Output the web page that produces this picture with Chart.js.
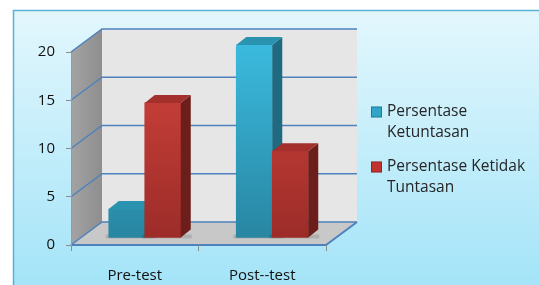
<!DOCTYPE html>
<html lang="id">
<head>
<meta charset="UTF-8">
<title>Ketuntasan</title>
<style>
  body { margin: 0; padding: 0; background: #fff; }
  #wrap { width: 539px; height: 285px; }
</style>
</head>
<body>
<div id="wrap"><canvas id="chart" width="539" height="285"></canvas></div>
<script src="https://cdn.jsdelivr.net/npm/chart.js"></script>
<script>
// data
const categories = ['Pre-test', 'Post--test'];
const ketuntasan = [3, 20];
const ketidakTuntasan = [14, 9];
const seriesLabels = ['Persentase Ketuntasan', 'Persentase Ketidak Tuntasan'];
const legendLines = [['Persentase', 'Ketuntasan'], ['Persentase Ketidak', 'Tuntasan']];

const FONT = "'Open Sans', sans-serif";
const DEPTH = { x: 31, y: -23 };     // wall depth
const BAR_SHIFT = { x: 10, y: -7 };  // bars sit in the middle of the floor
const BAR_DEPTH = { x: 10, y: -8 };

const palette = [
  { top: '#3bbade', bottom: '#2886a2', side: '#1f6a80', cap: '#2a93b0', icon: '#2fa6c8' },
  { top: '#d3443e', bottom: '#9c2c28', side: '#6c1e1b', cap: '#a3302c', icon: '#c0332f' }
];

function frontGradient(i) {
  return function (c) {
    const area = c.chart.chartArea;
    if (!area) return palette[i].top;
    const g = c.chart.ctx.createLinearGradient(0, area.top, 0, area.bottom);
    g.addColorStop(0, palette[i].top);
    g.addColorStop(1, palette[i].bottom);
    return g;
  };
}

function poly(ctx, pts, fill) {
  ctx.beginPath();
  ctx.moveTo(pts[0][0], pts[0][1]);
  for (let k = 1; k < pts.length; k++) ctx.lineTo(pts[k][0], pts[k][1]);
  ctx.closePath();
  ctx.fillStyle = fill;
  ctx.fill();
}

// 3D walls, floor, bar sides and the legend
const box3d = {
  id: 'box3d',
  beforeDraw(chart) {
    const ctx = chart.ctx;
    const { left, right, top, bottom } = chart.chartArea;
    const y = chart.scales.y;

    // panel background
    ctx.save();
    const bg = ctx.createLinearGradient(0, 10, 0, 285);
    bg.addColorStop(0, '#e3f7fd');
    bg.addColorStop(1, '#a4e4f8');
    ctx.fillStyle = bg;
    ctx.fillRect(13, 10, 540, 290);
    ctx.strokeStyle = '#58b2d6';
    ctx.lineWidth = 1.5;
    ctx.strokeRect(13.5, 10.5, 540, 290);

    const dx = DEPTH.x, dy = DEPTH.y;
    // left wall
    const lw = ctx.createLinearGradient(left, 0, left + dx, 0);
    lw.addColorStop(0, '#a3a3a3');
    lw.addColorStop(1, '#8e8e8e');
    poly(ctx, [[left, top], [left + dx, top + dy], [left + dx, bottom + dy], [left, bottom]], lw);
    // back wall
    poly(ctx, [[left + dx, top + dy], [right + dx, top + dy], [right + dx, bottom + dy], [left + dx, bottom + dy]], '#e6e6e6');
    // floor
    poly(ctx, [[left, bottom], [right, bottom], [right + dx, bottom + dy], [left + dx, bottom + dy]], '#c8c8c8');

    // grid lines on walls
    ctx.strokeStyle = '#4f81bd';
    ctx.lineWidth = 1.5;
    y.ticks.forEach(t => {
      const py = y.getPixelForValue(t.value);
      ctx.beginPath();
      ctx.moveTo(left, py);
      ctx.lineTo(left + dx, py + dy);
      ctx.lineTo(right + dx, py + dy);
      ctx.stroke();
    });
    // floor front and right edges
    ctx.lineWidth = 2;
    ctx.beginPath();
    ctx.moveTo(left, bottom);
    ctx.lineTo(right, bottom);
    ctx.lineTo(right + dx, bottom + dy);
    ctx.stroke();
    ctx.restore();
  },
  beforeDatasetDraw() {
    return false; // drawn in index order below
  },
  afterDatasetsDraw(chart) {
    const ctx = chart.ctx;
    ctx.save();
    ctx.translate(BAR_SHIFT.x, BAR_SHIFT.y);
    chart.data.datasets.forEach((ds, i) => {
      const meta = chart.getDatasetMeta(i);
      // soft shadow on the floor
      meta.data.forEach(el => {
        const p = el.getProps(['x', 'base', 'width'], true);
        ctx.fillStyle = 'rgba(0,0,0,0.12)';
        ctx.fillRect(p.x - p.width / 2 - 3, p.base - 3, p.width + 14, 4);
      });
      meta.controller.draw();
      meta.data.forEach(el => {
        const p = el.getProps(['x', 'y', 'base', 'width'], true);
        const l = p.x - p.width / 2, r = p.x + p.width / 2;
        const bx = BAR_DEPTH.x, by = BAR_DEPTH.y;
        poly(ctx, [[r, p.y], [r + bx, p.y + by], [r + bx, p.base + by], [r, p.base]], palette[i].side);
        poly(ctx, [[l, p.y], [r, p.y], [r + bx, p.y + by], [l + bx, p.y + by]], palette[i].cap);
      });
    });
    ctx.restore();
  },
  afterDraw(chart) {
    const ctx = chart.ctx;
    ctx.save();
    ctx.font = '15.5px ' + FONT;
    ctx.textBaseline = 'middle';
    const starts = [112, 167];
    chart.data.datasets.forEach((ds, i) => {
      const y0 = starts[i];
      ctx.fillStyle = palette[i].icon;
      ctx.fillRect(371, y0 - 5.5, 11, 11);
      ctx.strokeStyle = 'rgba(0,0,0,0.25)';
      ctx.lineWidth = 1;
      ctx.strokeRect(371.5, y0 - 5, 10, 10);
      ctx.fillStyle = '#262626';
      legendLines[i].forEach((line, k) => ctx.fillText(line, 387, y0 + k * 21));
    });
    ctx.restore();
  }
};

new Chart(document.getElementById('chart'), {
  type: 'bar',
  data: {
    labels: categories,
    datasets: [
      { label: seriesLabels[0], data: ketuntasan, backgroundColor: frontGradient(0) },
      { label: seriesLabels[1], data: ketidakTuntasan, backgroundColor: frontGradient(1) }
    ]
  },
  options: {
    responsive: false,
    animation: false,
    events: [],
    layout: { padding: { left: 0, top: 52, right: 213, bottom: 0 } },
    datasets: { bar: { barThickness: 36, borderWidth: 0 } },
    scales: {
      x: {
        grid: { drawOnChartArea: false, drawTicks: true, tickLength: 6, color: '#8c8c8c', offset: true },
        border: { display: false },
        ticks: { color: '#111', font: { family: FONT, size: 15 }, padding: 16 },
        afterFit(s) { s.height = 40; }
      },
      y: {
        min: 0,
        max: 20,
        grid: { drawOnChartArea: false, drawTicks: true, tickLength: 5, color: '#8c8c8c' },
        border: { display: true, color: '#9a9a9a', width: 1 },
        ticks: { stepSize: 5, color: '#111', font: { family: FONT, size: 15 }, padding: 11 },
        afterFit(s) { s.width = 71; }
      }
    },
    plugins: {
      legend: { display: false },
      tooltip: { enabled: false }
    }
  },
  plugins: [box3d]
});
</script>
</body>
</html>
